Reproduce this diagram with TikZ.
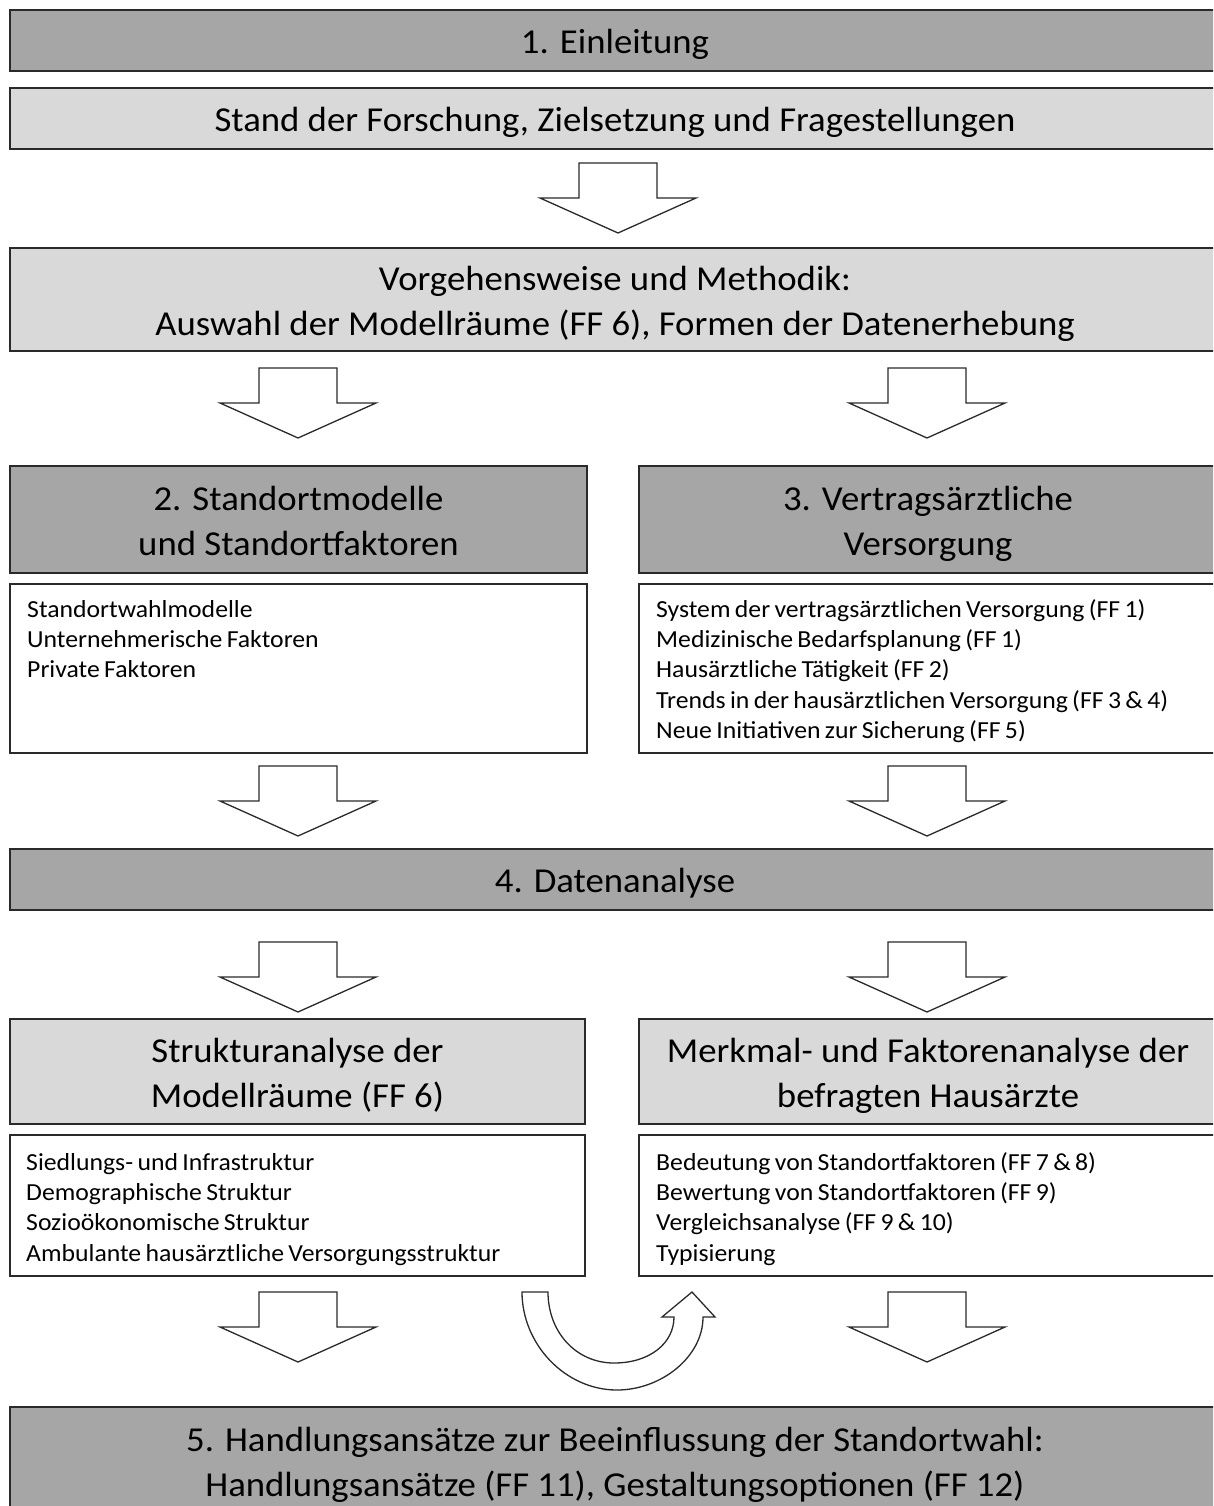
\documentclass[tikz,border=0pt]{standalone}
\usepackage{fontspec}
\setmainfont{Carlito}[FakeStretch=1.05]
\newfontfamily\listfont{Carlito}[FakeStretch=1.05, WordSpace=0.75]
\usetikzlibrary{calc}
\definecolor{darkbox}{HTML}{A6A6A6}
\definecolor{lightbox}{HTML}{D9D9D9}
\definecolor{edge}{HTML}{2A2A2A}
\newcommand\boxstrut{\rule[-9pt]{0pt}{44pt}}
\newcommand\liststrut{\rule{0pt}{21pt}}
\begin{document}
\begin{tikzpicture}[x=1pt,y=-1pt,
  box/.style={draw=edge, line width=1.6pt, rectangle, inner sep=0pt, outer sep=0pt,
    anchor=north west, align=center, font=\fontsize{35}{45}\selectfont},
  darkfill/.style={box, fill=darkbox},
  lightfill/.style={box, fill=lightbox},
  whitefill/.style={box, fill=white},
  listtext/.style={anchor=north west, inner sep=0pt, align=left, font=\listfont\fontsize{24.5}{30.3}\selectfont},
  arrowline/.style={draw=edge, line width=1.3pt, fill=white, line join=miter},
  barrow/.pic={\path[arrowline] (-39,0) -- (39,0) -- (39,35) -- (78,35) -- (0,70) -- (-78,35) -- (-39,35) -- cycle;}
]
\useasboundingbox (0,0) rectangle (1213,1506);
\clip (0,0) rectangle (1213,1506);
\fill[white] (0,0) rectangle (1213,1506);

% full-width boxes
\node[darkfill, minimum width=1210pt, minimum height=61pt] (b1) at (10,10) {\boxstrut 1. Einleitung};
\node[lightfill, minimum width=1210pt, minimum height=61pt] (b2) at (10,88) {\boxstrut Stand der Forschung, Zielsetzung und Fragestellungen};
\node[lightfill, minimum width=1210pt, minimum height=103pt] (b3) at (10,248) {\boxstrut Vorgehensweise und Methodik:\\\boxstrut Auswahl der Modellräume (FF 6), Formen der Datenerhebung};

% chapter 2 / 3 headers
\node[darkfill, minimum width=577pt, minimum height=107pt] (k2) at (10,466) {\boxstrut 2. Standortmodelle\\\boxstrut und Standortfaktoren};
\node[darkfill, minimum width=578pt, minimum height=107pt] (k3) at (639,466) {\boxstrut 3. Vertragsärztliche\\\boxstrut Versorgung};

% chapter 2 / 3 contents
\node[whitefill, minimum width=577pt, minimum height=169pt] (c2) at (10,584) {};
\node[whitefill, minimum width=578pt, minimum height=169pt] (c3) at (639,584) {};
\node[listtext] (t2) at ($(c2.north west)+(17,12)$) {\liststrut Standortwahlmodelle\\Unternehmerische Faktoren\\Private Faktoren};
\node[listtext] (t3) at ($(c3.north west)+(17,12)$) {\liststrut System der vertragsärztlichen Versorgung (FF 1)\\Medizinische Bedarfsplanung (FF 1)\\Hausärztliche Tätigkeit (FF 2)\\Trends in der hausärztlichen Versorgung (FF 3 \& 4)\\Neue Initiativen zur Sicherung (FF 5)};

% chapter 4
\node[darkfill, minimum width=1210pt, minimum height=61pt] (b4) at (10,849) {\boxstrut 4. Datenanalyse};

% analyses
\node[lightfill, minimum width=575pt, minimum height=105pt] (s1) at (10,1019) {\boxstrut Strukturanalyse der\\\boxstrut Modellräume (FF 6)};
\node[lightfill, minimum width=578pt, minimum height=105pt] (s2) at (639,1019) {\boxstrut Merkmal- und Faktorenanalyse der\\\boxstrut befragten Hausärzte};
\node[whitefill, minimum width=575pt, minimum height=141pt] (d1) at (10,1135) {};
\node[whitefill, minimum width=578pt, minimum height=141pt] (d2) at (639,1135) {};
\node[listtext] (u1) at ($(d1.north west)+(16,14)$) {\liststrut Siedlungs- und Infrastruktur\\Demographische Struktur\\Sozioökonomische Struktur\\Ambulante hausärztliche Versorgungsstruktur};
\node[listtext] (u2) at ($(d2.north west)+(17,14)$) {\liststrut Bedeutung von Standortfaktoren (FF 7 \& 8)\\Bewertung von Standortfaktoren (FF 9)\\Vergleichsanalyse (FF 9 \& 10)\\Typisierung};

% chapter 5
\node[darkfill, minimum width=1210pt, minimum height=108pt] (b5) at (10,1407) {\boxstrut 5. Handlungsansätze zur Beeinflussung der Standortwahl:\\\boxstrut Handlungsansätze (FF 11), Gestaltungsoptionen (FF 12)};

% block arrows (top centre of each arrow)
\pic at ($(b2.south)+(3,14)$) {barrow};
\pic at ($(b3.south west)+(288,17)$) {barrow};
\pic at ($(b3.south west)+(917,17)$) {barrow};
\pic at ($(c2.south west)+(288,13)$) {barrow};
\pic at ($(c3.south west)+(288,13)$) {barrow};
\pic at ($(b4.south west)+(288,32)$) {barrow};
\pic at ($(b4.south west)+(917,32)$) {barrow};
\pic at ($(d1.south west)+(288,16)$) {barrow};
\pic at ($(d2.south west)+(288,16)$) {barrow};

% curved arrow from structure analysis to feature analysis
\coordinate (ca) at ($(d1.south east)+(-63,16)$);
\path[arrowline] (ca) -- ++(26,0)
  .. controls ++(0,40) and ++(-38,0) .. ++(66,71)
  .. controls ++(36,0) and ++(0,26) .. ++(60,-46)
  -- ++(-12,0) -- ++(30,-25) -- ++(23,25) -- ++(-12,0)
  .. controls ++(0,40) and ++(44,0) .. ++(-86,73)
  .. controls ++(-52,0) and ++(0,52) .. cycle;
\end{tikzpicture}
\end{document}
